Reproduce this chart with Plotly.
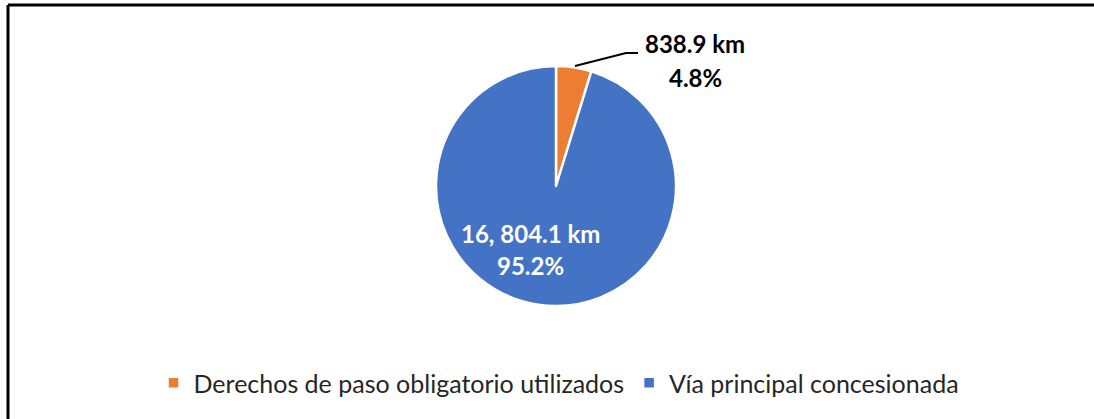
import plotly.graph_objects as go

labels = ["Derechos de paso obligatorio utilizados", "Vía principal concesionada"]
km_values = [838.9, 16804.1]
km_text = ["838.9 km", "16, 804.1 km"]
pct_text = ["4.8%", "95.2%"]
colors = ["#ED7D31", "#4472C4"]

W, H = 1094, 419
cx, cy, r = 556, 186, 120

fig = go.Figure(go.Pie(
    labels=labels,
    values=km_values,
    sort=False,
    direction="clockwise",
    rotation=0,
    marker=dict(colors=colors, line=dict(color="white", width=2.5)),
    textinfo="none",
    hoverinfo="label+value+percent",
    domain=dict(x=[(cx - r) / W, (cx + r) / W], y=[1 - (cy + r) / H, 1 - (cy - r) / H]),
))

FONT = "Lato, 'Open Sans', sans-serif"

def px(x, y):
    return x / W, 1 - y / H

# data labels
for (x, y), txt, col in [((695, 44), km_text[0], "#000000"),
                         ((695, 78), pct_text[0], "#000000"),
                         ((530, 233), km_text[1], "#FFFFFF"),
                         ((530, 265), pct_text[1], "#FFFFFF")]:
    ax, ay = px(x, y)
    fig.add_annotation(x=ax, y=ay, xref="paper", yref="paper",
                       xanchor="center", yanchor="middle",
                       text=f"<b>{txt}</b>", showarrow=False,
                       font=dict(family=FONT, size=24, color=col))

# leader line
p1, p2, p3 = px(575, 66), px(626, 53), px(638, 53)
fig.add_shape(type="path", xref="paper", yref="paper",
              path=f"M {p1[0]},{p1[1]} L {p2[0]},{p2[1]} L {p3[0]},{p3[1]}",
              line=dict(color="#000000", width=2))

# border (left and top edges visible)
fig.add_shape(type="line", xref="paper", yref="paper",
              x0=8 / W, y0=-0.05, x1=8 / W, y1=1 - 5 / H,
              line=dict(color="#000000", width=3))
fig.add_shape(type="line", xref="paper", yref="paper",
              x0=8 / W, y0=1 - 5 / H, x1=1.05, y1=1 - 5 / H,
              line=dict(color="#000000", width=3))

fig.update_layout(
    width=W, height=H,
    margin=dict(l=0, r=0, t=0, b=0),
    paper_bgcolor="white",
    plot_bgcolor="white",
    showlegend=True,
    legend=dict(orientation="h", x=559 / W, xanchor="center", y=1 - 383 / H, yanchor="middle",
                font=dict(family=FONT, size=25, color="#262626"),
                itemwidth=30, traceorder="normal"),
)

fig.write_html("out.html", config={"displayModeBar": False},
               post_script="document.body.style.margin='0';document.body.style.overflow='hidden';")
